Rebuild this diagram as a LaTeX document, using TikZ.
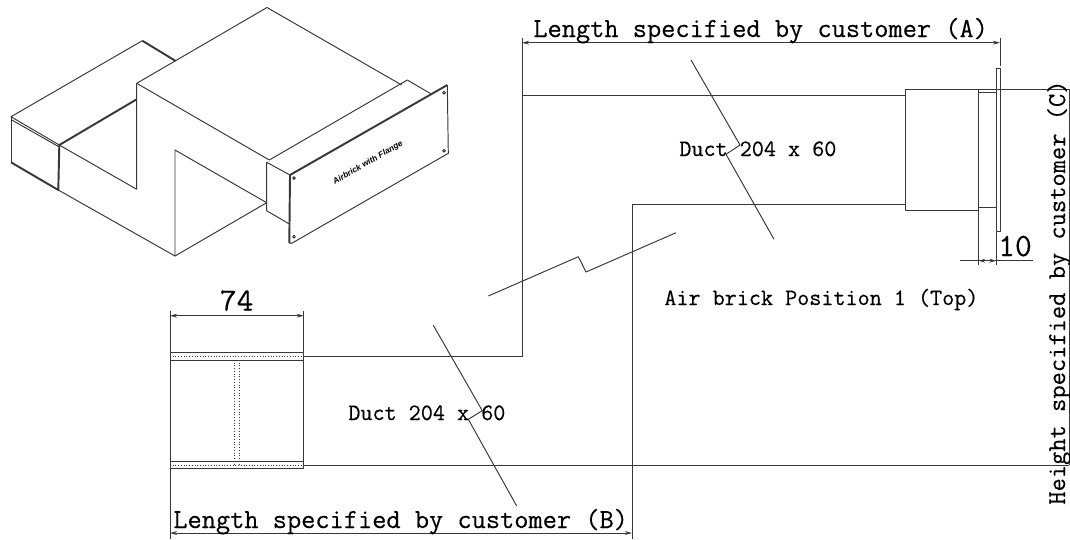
\documentclass[tikz,border=0pt]{standalone}
\usepackage{fontspec}
\newfontfamily\platefont{Liberation Sans}
\newfontfamily\dimfont[FakeBold=0.35]{Latin Modern Mono}
\usetikzlibrary{arrows.meta, positioning, calc}
\definecolor{inkline}{gray}{0.22}
\tikzset{
    thinline/.style={draw=inkline, line width=0.55pt, line join=round},
    heavyline/.style={draw=inkline, line width=1.1pt, line join=round},
    dimline/.style={draw=inkline, line width=0.5pt},
    dimtips/.style={dimline, {Stealth[length=4pt,width=2.2pt]}-{Stealth[length=4pt,width=2.2pt]}},
    seamline/.style={draw=inkline, line width=0.55pt, densely dotted},
    dimtext/.style={inner sep=0pt, anchor=base west, font=\dimfont\fontsize{15.7}{17}\selectfont},
    ducttext/.style={inner sep=0pt, anchor=base west, font=\dimfont\fontsize{13.35}{15}\selectfont},
    sizetext/.style={inner sep=0pt, anchor=base, font=\dimfont\fontsize{18.5}{20}\selectfont}
}

\begin{document}
\begin{tikzpicture}[x=0.02cm, y=-0.02cm]
    \useasboundingbox (0,0) rectangle (1070,539);

    % Sketch of the duct
    \draw[thinline] (142.3,40.7) -- (11,116.7) -- (59.3,145);
    \draw[thinline] (11,119.5) -- (59.3,147);
    \draw[thinline] (11,116.7) -- (11,162.3);
    \draw[heavyline] (11,162.3) -- (58.3,190) -- (59.3,145) -- (136.7,99.3);
    \draw[heavyline] (142.3,40.7) -- (175.7,61);
    \draw[thinline] (59.3,145) -- (136.7,189.3) -- (136.7,83.3);
    \draw[thinline] (136.7,83.3) -- (267,7.5) -- (401.7,85);
    \draw[thinline] (136.7,83.3) -- (269.3,160) -- (407.3,80) -- (431.7,94.3);
    \draw[thinline] (58.3,190) -- (175,256) -- (175,150) -- (266.7,202.7);
    \draw[thinline] (175,256) -- (266.7,202.7);

    % Sketch of the air brick
    \draw[thinline] (290,175) -- (266.7,162.3) -- (266.7,210.7) -- (289.3,224);
    \draw[heavyline] (289.3,243) -- (290,175) -- (447.3,85);
    \draw[thinline] (447.3,85) -- (448.3,153.3) -- (291.7,243.3) -- (289.3,243);
    \draw[thinline] (294,178) circle (1.4);
    \draw[thinline] (444,92.7) circle (1.4);
    \draw[thinline] (444,150.7) circle (1.4);
    \draw[thinline] (294,236.7) circle (1.4);
    \node[inner sep=0pt, rotate=30, font=\platefont\bfseries\itshape\fontsize{4.7}{6}\selectfont] (platelabel) at (368,163) {Airbrick with Flange};

    % Duct outline
    \draw[thinline] (303.7,356) -- (522,356) -- (522,95) -- (905.7,95);
    \draw[thinline] (303.7,465) -- (1069.3,465);
    \draw[thinline] (632,539) -- (632,204) -- (905.7,204);

    % Spigot at the left
    \draw[thinline] (170,352.3) rectangle (303.7,468.7);
    \draw[thinline] (170,360) -- (303.7,360);
    \draw[thinline] (170,461.7) -- (303.7,461.7);
    \draw[seamline] (170,356) -- (303.7,356);
    \draw[seamline] (170,465) -- (303.7,465);
    \draw[seamline] (234.7,360) -- (234.7,465);
    \draw[seamline] (239.3,360) -- (239.3,465);

    % Air brick at the right
    \draw[thinline] (905.7,89.3) rectangle (978.3,210);
    \draw[thinline] (978.3,92.7) rectangle (996.3,207.3);
    \draw[thinline] (996.3,68.3) rectangle (1000,231.7);

    % Break lines
    \draw[thinline] (691,60) -- (740,145) -- (726,154.3) -- (774,239.3);
    \draw[thinline] (488.3,296) -- (578.3,256.7) -- (586,272) -- (676,232.7);
    \draw[thinline] (433.3,325.3) -- (482.3,410.7) -- (468.3,419.3) -- (516.7,506);

    % Dimension A
    \draw[dimline] (522,38) -- (522,95);
    \draw[dimline] (1000,38) -- (1000,66);
    \draw[dimtips] (522,42.7) -- (1000,42.7);
    \node[dimtext] (lengtha) at (533,37) {Length specified by customer (A)};

    % Dimension B
    \draw[dimline] (170,468.7) -- (170,539);
    \draw[dimtips] (170,533) -- (632,533);
    \node[dimtext] (lengthb) at (173,528) {Length specified by customer (B)};

    % Dimension C
    \draw[dimline] (978.3,89.3) -- (1069.3,89.3) -- (1069.3,465);
    \node[dimtext, rotate=90, font=\dimfont\fontsize{14.65}{16}\selectfont] (heightc) at (1065,505) {Height specified by customer (C)};

    % Size 74
    \draw[dimline] (170,310.7) -- (170,352.3);
    \draw[dimline] (303.7,310.7) -- (303.7,352.3);
    \draw[dimtips] (170,315.7) -- (303.7,315.7);
    \node[sizetext] (sizespigot) at (236.7,310.7) {74};

    % Size 10
    \draw[dimline] (978.3,210) -- (978.3,265);
    \draw[dimline] (996.3,231.7) -- (996.3,265);
    \draw[dimline] (960,260.7) -- (1033,260.7);
    \draw[dimtips] (978.3,260.7) -- (996.3,260.7);
    \node[sizetext] (sizeflange) at (1015,256) {10};

    % Labels
    \node[ducttext] (ductupper) at (679,156) {Duct 204 x 60};
    \node[ducttext] (ductlower) at (348,420) {Duct 204 x 60};
    \node[ducttext] (position) at (664,305) {Air brick Position 1 (Top)};
\end{tikzpicture}
\end{document}
